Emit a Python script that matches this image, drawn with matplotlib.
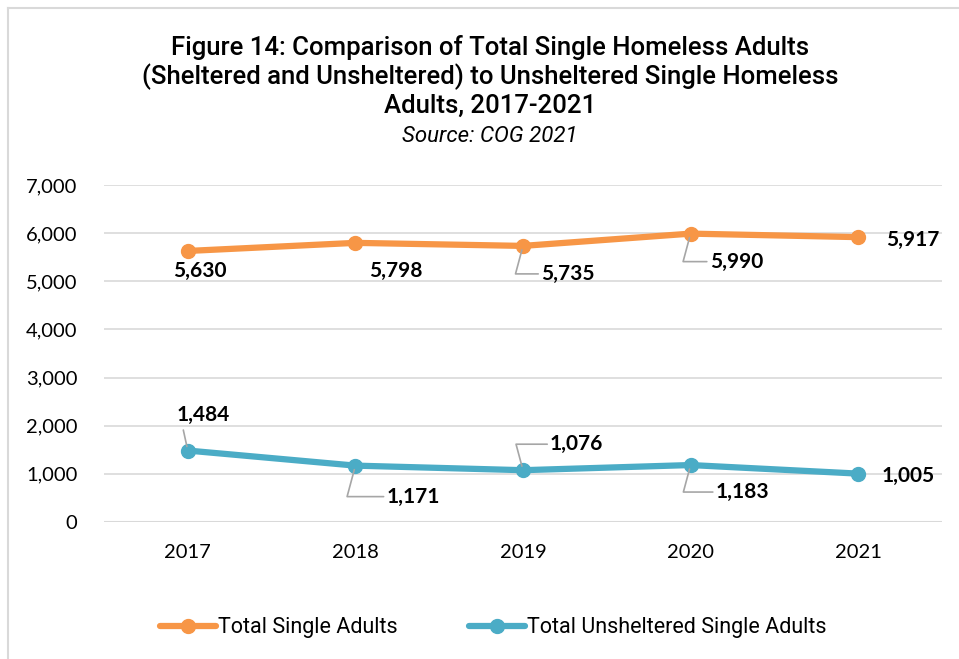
import matplotlib
matplotlib.use("Agg")
import matplotlib.pyplot as plt
from matplotlib.lines import Line2D

years = [2017, 2018, 2019, 2020, 2021]
total_single = [5630, 5798, 5735, 5990, 5917]
unsheltered_single = [1484, 1171, 1076, 1183, 1005]
series_names = ["Total Single Adults", "Total Unsheltered Single Adults"]
y_ticks = [0, 1000, 2000, 3000, 4000, 5000, 6000, 7000]

ORANGE = "#F79646"
BLUE = "#4BACC6"
GRID = "#D9D9D9"
LEADER = "#A6A6A6"

head = ["Roboto", "DejaVu Sans"]
body = "Lato"

W, H = 959, 659
fig = plt.figure(figsize=(W / 100, H / 100), dpi=100)

# frame around the chart area
fig.add_artist(Line2D([8 / W, 1], [1 - 8 / H, 1 - 8 / H], color="#D9D9D9", lw=1.5))
fig.add_artist(Line2D([8 / W, 8 / W], [0, 1 - 8 / H], color="#D9D9D9", lw=1.5))

ax = fig.add_axes([104 / W, 1 - 522 / H, (942 - 104) / W, (522 - 185) / H])
xs = list(range(len(years)))
ax.plot(xs, total_single, color=ORANGE, lw=4.5, marker="o", ms=10, solid_capstyle="round", zorder=3)
ax.plot(xs, unsheltered_single, color=BLUE, lw=4.5, marker="o", ms=10, solid_capstyle="round", zorder=3)

ax.set_xlim(-0.5, len(years) - 0.5)
ax.set_ylim(0, 7000)
ax.set_yticks(y_ticks)
ax.set_yticklabels([f"{v:,}" for v in y_ticks], fontfamily=body, fontsize=14.5)
ax.set_xticks(xs)
ax.set_xticklabels([str(y) for y in years], fontfamily=body, fontsize=14.5)
ax.tick_params(axis="y", length=0, pad=19)
ax.tick_params(axis="x", length=0, pad=16)
ax.grid(axis="y", color=GRID, lw=1.2)
ax.set_axisbelow(True)
for s in ax.spines.values():
    s.set_visible(False)
ax.axhline(0, color=GRID, lw=1.5, zorder=1)

# data labels: (dx, dy) in pixels from the point (dy positive = downward), leader line flag
orange_pos = [(12, 20, False), (40, 28, False), (44, 28, True), (45, 28, True), (55, 3, False)]
blue_pos = [(15, -36, True), (57, 31, True), (53, -26, True), (51, 27, True), (50, 2, False)]


def label(i, val, dx, dy, leader):
    k = 0.72
    kw = dict(textcoords="offset points", fontfamily=body, fontweight="bold",
              fontsize=15, va="center", zorder=4)
    if leader:
        x_left = dx - 26
        if dy < 0 and abs(dx) < 25:
            # short diagonal tick under a label sitting above the point
            kw["arrowprops"] = dict(arrowstyle="-", color=LEADER, lw=1.2, shrinkA=2, shrinkB=3,
                                    relpos=(0.1, 0))
        else:
            kw["arrowprops"] = dict(arrowstyle="-", color=LEADER, lw=1.2, shrinkA=0, shrinkB=3,
                                    relpos=(0, 0.5),
                                    connectionstyle="angle,angleA=0,angleB=%d,rad=0" % (75 if dy > 0 else 105))
        ax.annotate(f"{val:,}", (i, val), xytext=(x_left * k, -dy * k), ha="left", **kw)
    else:
        ax.annotate(f"{val:,}", (i, val), xytext=(dx * k, -dy * k), ha="center", **kw)


for i, (v, p) in enumerate(zip(total_single, orange_pos)):
    label(i, v, *p)
for i, (v, p) in enumerate(zip(unsheltered_single, blue_pos)):
    label(i, v, *p)

title_lines = ["Figure 14: Comparison of Total Single Homeless Adults",
               "(Sheltered and Unsheltered) to Unsheltered Single Homeless",
               "Adults, 2017-2021"]
for line, y in zip(title_lines, [47, 77, 106]):
    fig.text(490 / W, 1 - y / H, line, ha="center", va="center",
             fontfamily=head, fontsize=18.5, fontweight="medium")
fig.text(490 / W, 1 - 137 / H, "Source: COG 2021",
         ha="center", va="center", fontfamily=head, fontsize=16, style="italic")

handles = [Line2D([], [], color=c, lw=4.5, marker="o", ms=10, solid_capstyle="round")
           for c in (ORANGE, BLUE)]
fig.legend(handles, series_names, loc="center", bbox_to_anchor=(493 / W, 1 - 628 / H),
           ncol=2, frameon=False, prop={"family": head, "size": 15.5},
           handlelength=2.6, handletextpad=0.1, columnspacing=3.3)

fig.savefig("out.png", dpi=100)
